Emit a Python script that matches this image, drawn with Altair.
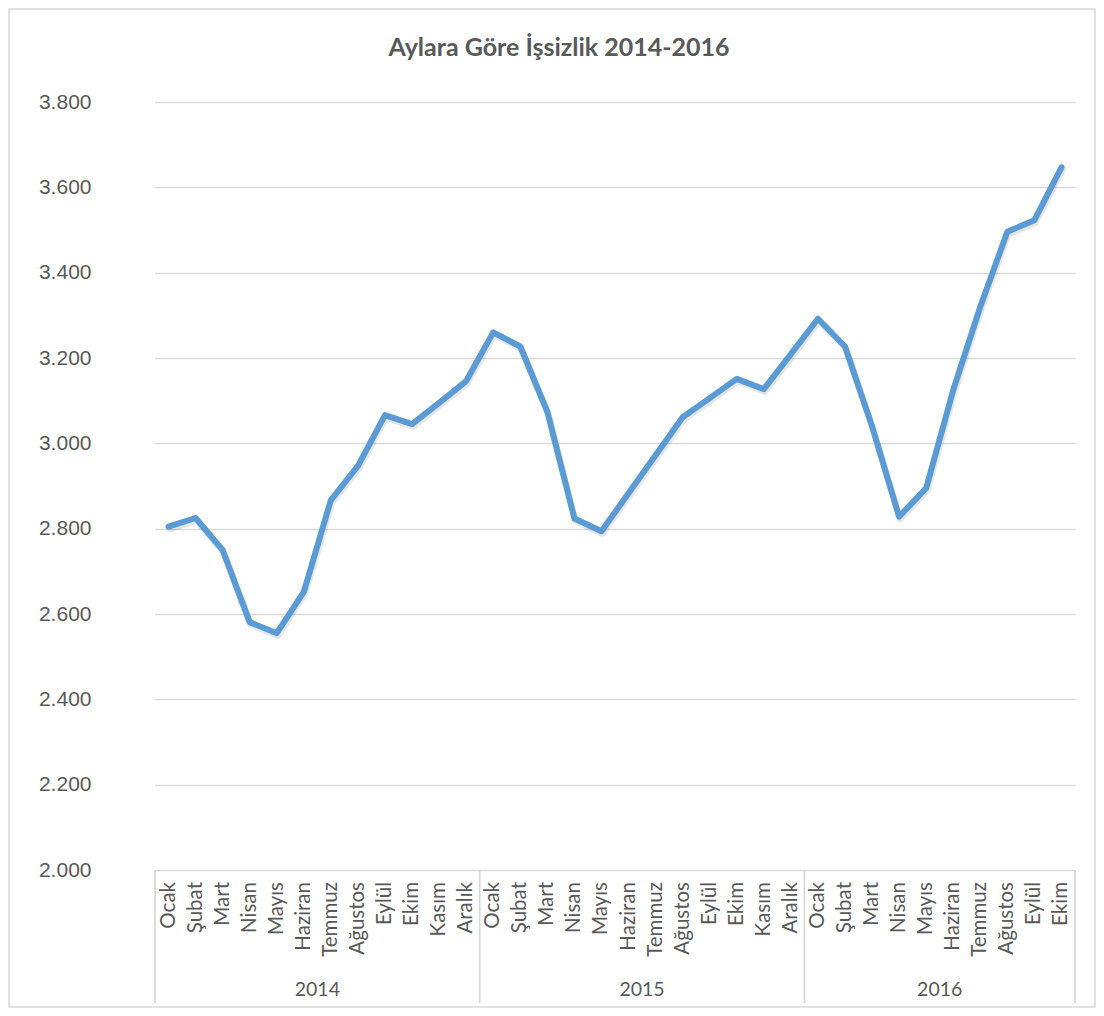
import altair as alt
import pandas as pd

title_text = "Aylara Göre İşsizlik 2014-2016"
months_full = ["Ocak", "Şubat", "Mart", "Nisan", "Mayıs", "Haziran", "Temmuz",
               "Ağustos", "Eylül", "Ekim", "Kasım", "Aralık"]
years = ["2014", "2015", "2016"]
months_per_year = [12, 12, 10]
values_2014 = [2805, 2825, 2750, 2581, 2555, 2652, 2867, 2947, 3066, 3045, 3095, 3146]
values_2015 = [3260, 3227, 3074, 2824, 2794, 2883, 2972, 3061, 3106, 3151, 3127, 3209]
values_2016 = [3292, 3227, 3040, 2828, 2895, 3125, 3320, 3496, 3523, 3647]
y_ticks = [2000, 2200, 2400, 2600, 2800, 3000, 3200, 3400, 3600, 3800]

GRAY = "#595959"
GRID = "#d9d9d9"
LINE = "#5b9bd5"

rows = []
idx = 0
for yr, n, vals in zip(years, months_per_year, [values_2014, values_2015, values_2016]):
    for m, v in zip(months_full[:n], vals):
        rows.append({"i": idx, "month": m, "year": yr, "value": v})
        idx += 1
df = pd.DataFrame(rows)
N = len(df)

groups = []
start = 0
for yr, n in zip(years, months_per_year):
    groups.append({"year": yr, "center": start + (n - 1) / 2})
    start += n
gdf = pd.DataFrame(groups)

seps = [-0.5]
s = -0.5
for n in months_per_year:
    s += n
    seps.append(s)
sdf = pd.DataFrame({"x": seps})

W, H = 920, 768
xscale = alt.Scale(domain=[-0.5, N - 0.5], nice=False, zero=False)
yscale = alt.Scale(domain=[2000, 3800], nice=False, zero=False)

base = alt.Chart(df)

line_shadow = base.mark_line(color="#000000", opacity=0.10, strokeWidth=6.5,
                             strokeJoin="round", strokeCap="round",
                             xOffset=1, yOffset=2.5).encode(
    x=alt.X("i:Q", scale=xscale, axis=None),
    y=alt.Y("value:Q", scale=yscale),
)

line = base.mark_line(color=LINE, strokeWidth=6, strokeJoin="round",
                      strokeCap="round").encode(
    x=alt.X("i:Q", scale=xscale, axis=None),
    y=alt.Y("value:Q", scale=yscale,
            axis=alt.Axis(values=y_ticks, title=None, ticks=False, domain=False,
                          grid=True, gridColor=GRID, gridWidth=1.4,
                          labelFont="Liberation Sans", labelFontSize=21,
                          labelColor=GRAY, labelPadding=64, labelAlign="right",
                          labelExpr="replace(format(datum.value, ',.0f'), ',', '.')")),
)

month_labels = base.mark_text(angle=270, align="right", baseline="middle",
                              font="Lato", fontSize=20.5, color=GRAY).encode(
    x=alt.X("i:Q", scale=xscale, axis=None),
    y=alt.value(780),
    text="month:N",
)

year_labels = alt.Chart(gdf).mark_text(align="center", baseline="middle",
                                       font="Lato", fontSize=19.5, color=GRAY).encode(
    x=alt.X("center:Q", scale=xscale, axis=None),
    y=alt.value(888),
    text="year:N",
)

sep_rules = alt.Chart(sdf).mark_rule(color=GRID, strokeWidth=1.8).encode(
    x=alt.X("x:Q", scale=xscale, axis=None),
    y=alt.value(768),
    y2=alt.value(901),
)

title = alt.Chart(pd.DataFrame({"t": [title_text]})).mark_text(
    align="center", baseline="middle", font="Lato", fontWeight="bold",
    fontSize=25, color=GRAY).encode(
    x=alt.value(404), y=alt.value(-54), text="t:N")

border = alt.Chart(pd.DataFrame({"a": [0]})).mark_rect(
    fill=None, fillOpacity=0, stroke=GRID, strokeWidth=1.5).encode(
    x=alt.value(-146), x2=alt.value(940), y=alt.value(-93), y2=alt.value(905))

chart = alt.layer(border, sep_rules, line_shadow, line, month_labels, year_labels, title).properties(
    width=W, height=H,
    autosize=alt.AutoSizeParams(type="none"),
    padding={"left": 147, "top": 94, "right": 21, "bottom": 138},
    background="white",
).configure_view(stroke=None)

chart.save("out.html", embed_options={"renderer": "svg", "actions": False})
